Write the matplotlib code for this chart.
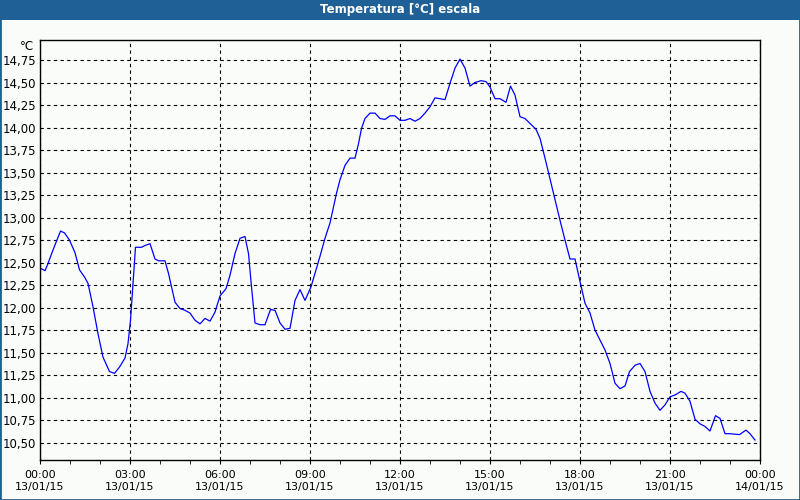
import numpy as np
import pandas as pd
import matplotlib
matplotlib.use("Agg")
import matplotlib.pyplot as plt
import matplotlib.dates as mdates
from matplotlib.ticker import FuncFormatter, FixedLocator
from matplotlib.patches import Rectangle

day = "2015-01-13"
times = ["00:00", "00:10", "00:16", "00:26", "00:41", "00:49", "00:59", "01:10", "01:19", "01:29",
         "01:36", "01:46", "01:56", "02:06", "02:19", "02:29", "02:39", "02:50", "02:56", "03:01",
         "03:06", "03:11", "03:23", "03:30", "03:40", "03:50", "03:57", "04:10", "04:17", "04:23",
         "04:30", "04:40", "04:50", "05:00", "05:10", "05:20", "05:30", "05:40", "05:50", "06:00",
         "06:12", "06:20", "06:30", "06:40", "06:50", "06:57", "07:03", "07:10", "07:20", "07:30",
         "07:41", "07:50", "08:00", "08:10", "08:20", "08:30", "08:40", "08:50", "09:02", "09:10",
         "09:20", "09:30", "09:40", "09:47", "09:53", "10:00", "10:10", "10:20", "10:30", "10:37",
         "10:43", "10:50", "11:00", "11:10", "11:20", "11:30", "11:40", "11:50", "12:00", "12:10",
         "12:20", "12:30", "12:40", "12:50", "13:00", "13:10", "13:20", "13:30", "13:40", "13:50",
         "14:00", "14:10", "14:20", "14:30", "14:42", "14:52", "15:00", "15:10", "15:20", "15:32",
         "15:41", "15:50", "16:00", "16:10", "16:23", "16:32", "16:40", "16:50", "17:00", "17:10",
         "17:20", "17:30", "17:40", "17:50", "18:00", "18:10", "18:20", "18:30", "18:40", "18:50",
         "19:00", "19:10", "19:20", "19:30", "19:39", "19:50", "20:00", "20:10", "20:20", "20:30",
         "20:40", "20:50", "21:00", "21:10", "21:22", "21:30", "21:40", "21:50", "22:00", "22:10",
         "22:20", "22:31", "22:40", "22:50", "23:00", "23:19", "23:32", "23:40", "23:50"]
temps = [12.44, 12.41, 12.49, 12.64, 12.85, 12.83, 12.75, 12.61, 12.42, 12.34,
         12.27, 12.01, 11.71, 11.45, 11.29, 11.27, 11.34, 11.44, 11.60, 11.86,
         12.27, 12.67, 12.67, 12.69, 12.71, 12.54, 12.52, 12.52, 12.38, 12.23,
         12.06, 11.99, 11.97, 11.94, 11.86, 11.82, 11.88, 11.85, 11.95, 12.13,
         12.21, 12.36, 12.60, 12.77, 12.79, 12.60, 12.23, 11.83, 11.81, 11.81,
         11.98, 11.97, 11.83, 11.76, 11.77, 12.08, 12.20, 12.08, 12.23, 12.38,
         12.57, 12.77, 12.94, 13.12, 13.27, 13.42, 13.58, 13.66, 13.66, 13.82,
         13.99, 14.10, 14.16, 14.16, 14.10, 14.09, 14.13, 14.13, 14.08, 14.08,
         14.10, 14.07, 14.10, 14.16, 14.23, 14.33, 14.32, 14.31, 14.49, 14.66,
         14.76, 14.66, 14.46, 14.50, 14.52, 14.51, 14.45, 14.32, 14.32, 14.28,
         14.46, 14.36, 14.12, 14.10, 14.03, 13.98, 13.88, 13.66, 13.43, 13.20,
         12.97, 12.75, 12.54, 12.54, 12.29, 12.05, 11.94, 11.75, 11.64, 11.53,
         11.38, 11.16, 11.10, 11.13, 11.29, 11.36, 11.38, 11.29, 11.07, 10.94,
         10.86, 10.92, 11.01, 11.03, 11.07, 11.05, 10.96, 10.76, 10.71, 10.68,
         10.63, 10.80, 10.77, 10.60, 10.60, 10.59, 10.64, 10.60, 10.53]
yticks = [10.50, 10.75, 11.00, 11.25, 11.50, 11.75, 12.00, 12.25, 12.50,
          12.75, 13.00, 13.25, 13.50, 13.75, 14.00, 14.25, 14.50, 14.75]

bg = "#fafcfa"
bar = "#1f6196"

stamps = pd.to_datetime([day + " " + t for t in times])
start = pd.Timestamp(day)
end = start + pd.Timedelta(days=1)

fig = plt.figure(figsize=(8, 5), dpi=100, facecolor=bg)

# title bar
fig.patches.append(Rectangle((0, 1 - 20 / 500), 1, 20 / 500, transform=fig.transFigure,
                             facecolor=bar, edgecolor="none", zorder=0))
fig.patches.append(Rectangle((0, 0), 1, 1, transform=fig.transFigure,
                             facecolor="none", edgecolor=bar, linewidth=2, zorder=5))
fig.text(0.5, 1 - 10 / 500, "Temperatura [°C] escala", color="white", fontsize=8.5,
         fontweight="bold", ha="center", va="center")

ax = fig.add_axes([40 / 800, 40 / 500, 720 / 800, 420 / 500], facecolor=bg)
ax.plot(stamps, temps, color="#0000ff", linewidth=0.9)

ax.set_xlim(start, end)
ax.set_ylim(10.308, 14.972)

ax.set_yticks(yticks)
ax.yaxis.set_major_formatter(FuncFormatter(lambda v, p: f"{v:.2f}".replace(".", ",")))
ax.tick_params(axis="y", length=0, pad=3, labelsize=8.5, labelcolor="black")

major = [start + pd.Timedelta(hours=h) for h in range(0, 25, 3)]
ax.xaxis.set_major_locator(FixedLocator(mdates.date2num(major)))
ax.xaxis.set_minor_locator(mdates.HourLocator())
ax.xaxis.set_major_formatter(mdates.DateFormatter("%H:%M\n%d/%m/%y"))
ax.tick_params(axis="x", which="both", length=3, direction="out", pad=4, labelsize=8)
for lab in ax.get_xticklabels():
    lab.set_linespacing(1.3)

ax.grid(True, which="major", color="black", linestyle=(0, (3, 3)), linewidth=0.8)
for s in ax.spines.values():
    s.set_color("black")
    s.set_linewidth(1)

fig.text(34 / 800, 1 - 46 / 500, "°C", fontsize=8.5, ha="right", va="center")

plt.savefig("out.png", dpi=100, facecolor=bg)
